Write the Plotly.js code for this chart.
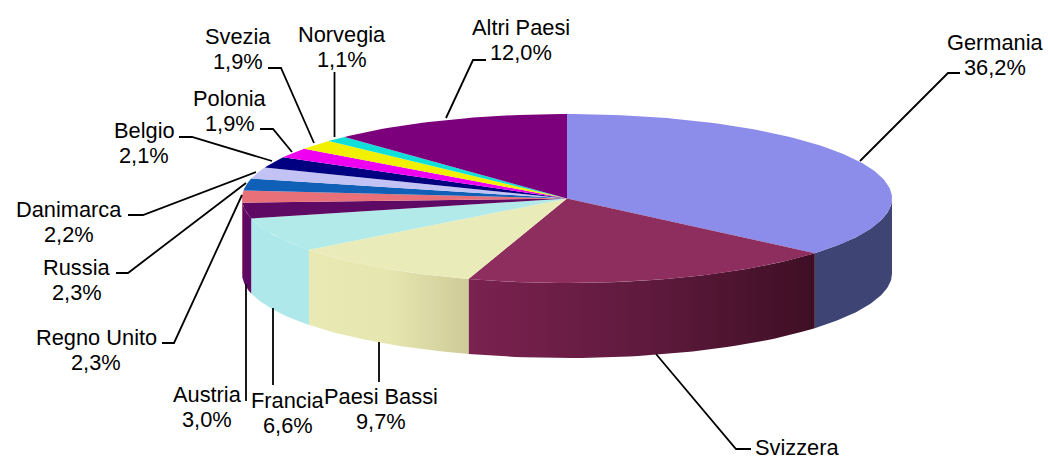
<!DOCTYPE html>
<html>
<head>
<meta charset="utf-8">
<script src="https://cdn.plot.ly/plotly-3.0.1.min.js"></script>
<style>html,body{margin:0;padding:0;background:#fff}#chart{width:1048px;height:460px}</style>
</head>
<body>
<div id="chart"></div>
<script>
// Values. Svizzera's own label is cropped off the bottom of the reference.
var categories = ['Germania','Svizzera','Paesi Bassi','Francia','Austria','Regno Unito','Russia','Danimarca','Belgio','Polonia','Svezia','Norvegia','Altri Paesi'];
var values = [36.2,18.7,9.7,6.6,3.0,2.3,2.3,2.2,2.1,1.9,1.9,1.1,12.0];
var valueLabels = ['36,2%','','9,7%','6,6%','3,0%','2,3%','2,3%','2,2%','2,1%','1,9%','1,9%','1,1%','12,0%'];
var topColors = ['#8C8CEB','#8E2E5E','#E9EBB8','#B2E9E9','#5E0A64','#E87078','#1060B8','#C2C2F5','#000080','#F000F0','#F0F000','#10E0D8','#7C007C'];
var wallLeft = ['#3E4474','#7A2250','#E9E9B4','#AEE8EA','#5E0A64'];
var wallMid = ['#3E4474','#601A3E','#E6E6B0','#AEE8EA','#5E0A64'];
var wallRight = ['#3E4474','#3E0F24','#CFCB98','#AEE8EA','#5E0A64'];
var labelX = [995,797,381,287.5,207,96,77,68.5,144,229.5,238,341.5,521];
var labelY = [42,447.5,396,400,394,337,267,209,130,98,36,34,27];
var lineGap = 25;
// leader-line routes: slice edge, elbow, stub end
var leaders = [
 [[860,161],[948,73],[960,73]],
 [[656,354],[736,449],[751,449]],
 [[379,342],[379,382]],
 [[273,308],[273,385]],
 [[246,284],[246,401]],
 [[242,195],[174,343],[162,343]],
 [[246,183],[128,273],[116,273]],
 [[256,172],[143,215],[128,215]],
 [[272,161],[192,137],[179,137]],
 [[292,152],[273,129],[260,129]],
 [[314,143],[281,68],[268,68]],
 [[334.5,137],[334.5,72]],
 [[446,118],[473,60],[486,60]]
];

var cx = 567, cy = 198.5, rx = 325, ry = 84.5, depth = 75;
function px(a){return cx + rx*Math.sin(a);}
function py(a){return cy - ry*Math.cos(a);}
var total = values.reduce(function(s,v){return s+v;},0);
var starts = [], ends = [], acc = 0;
values.forEach(function(v){starts.push(acc/total*2*Math.PI); acc+=v; ends.push(acc/total*2*Math.PI);});

var traces = [];
// outer walls, visible along the front half of the disc
var lo = Math.PI/2, hi = 3*Math.PI/2;
values.forEach(function(v,i){
  var a0 = Math.max(starts[i],lo), a1 = Math.min(ends[i],hi);
  if(a1<=a0) return;
  var xs=[],ys=[],n=40,k,a;
  for(k=0;k<=n;k++){a=a0+(a1-a0)*k/n; xs.push(px(a)); ys.push(py(a));}
  for(k=n;k>=0;k--){a=a0+(a1-a0)*k/n; xs.push(px(a)); ys.push(py(a)+depth);}
  xs.push(xs[0]); ys.push(ys[0]);
  traces.push({x:xs,y:ys,mode:'lines',fill:'toself',line:{width:0,color:wallLeft[i]},hoverinfo:'skip',
    fillgradient:{type:'horizontal',colorscale:[[0,wallLeft[i]],[0.5,wallMid[i]],[1,wallRight[i]]]}});
});
// top surface
values.forEach(function(v,i){
  var xs=[cx],ys=[cy],n=Math.max(6,Math.ceil(v*3)),k,a;
  for(k=0;k<=n;k++){a=starts[i]+(ends[i]-starts[i])*k/n; xs.push(px(a)); ys.push(py(a));}
  xs.push(cx); ys.push(cy);
  traces.push({x:xs,y:ys,mode:'lines',fill:'toself',fillcolor:topColors[i],line:{width:0,color:topColors[i]},name:categories[i],hoverinfo:'name'});
});
// leader lines
var lx=[],ly=[];
leaders.forEach(function(route){
  route.forEach(function(p){lx.push(p[0]); ly.push(p[1]);});
  lx.push(null); ly.push(null);
});
traces.push({x:lx,y:ly,mode:'lines',line:{color:'#000',width:1.8},hoverinfo:'skip',connectgaps:false});

var font = {family:'"Liberation Sans",Arial,sans-serif',size:21.8,color:'#000'};
var annotations = [];
categories.forEach(function(c,i){
  annotations.push({x:labelX[i],y:labelY[i],xref:'x',yref:'y',xanchor:'center',yanchor:'middle',showarrow:false,text:c,font:font});
  if(valueLabels[i]) annotations.push({x:labelX[i],y:labelY[i]+lineGap,xref:'x',yref:'y',xanchor:'center',yanchor:'middle',showarrow:false,text:valueLabels[i],font:font});
});
var layout = {
  width:1048,height:460,margin:{l:0,r:0,t:0,b:0},showlegend:false,
  paper_bgcolor:'#fff',plot_bgcolor:'#fff',
  xaxis:{range:[0,1048],visible:false,fixedrange:true},
  yaxis:{range:[460,0],visible:false,fixedrange:true},
  annotations:annotations
};
Plotly.newPlot('chart',traces,layout,{displayModeBar:false,staticPlot:true});
</script>
</body>
</html>
